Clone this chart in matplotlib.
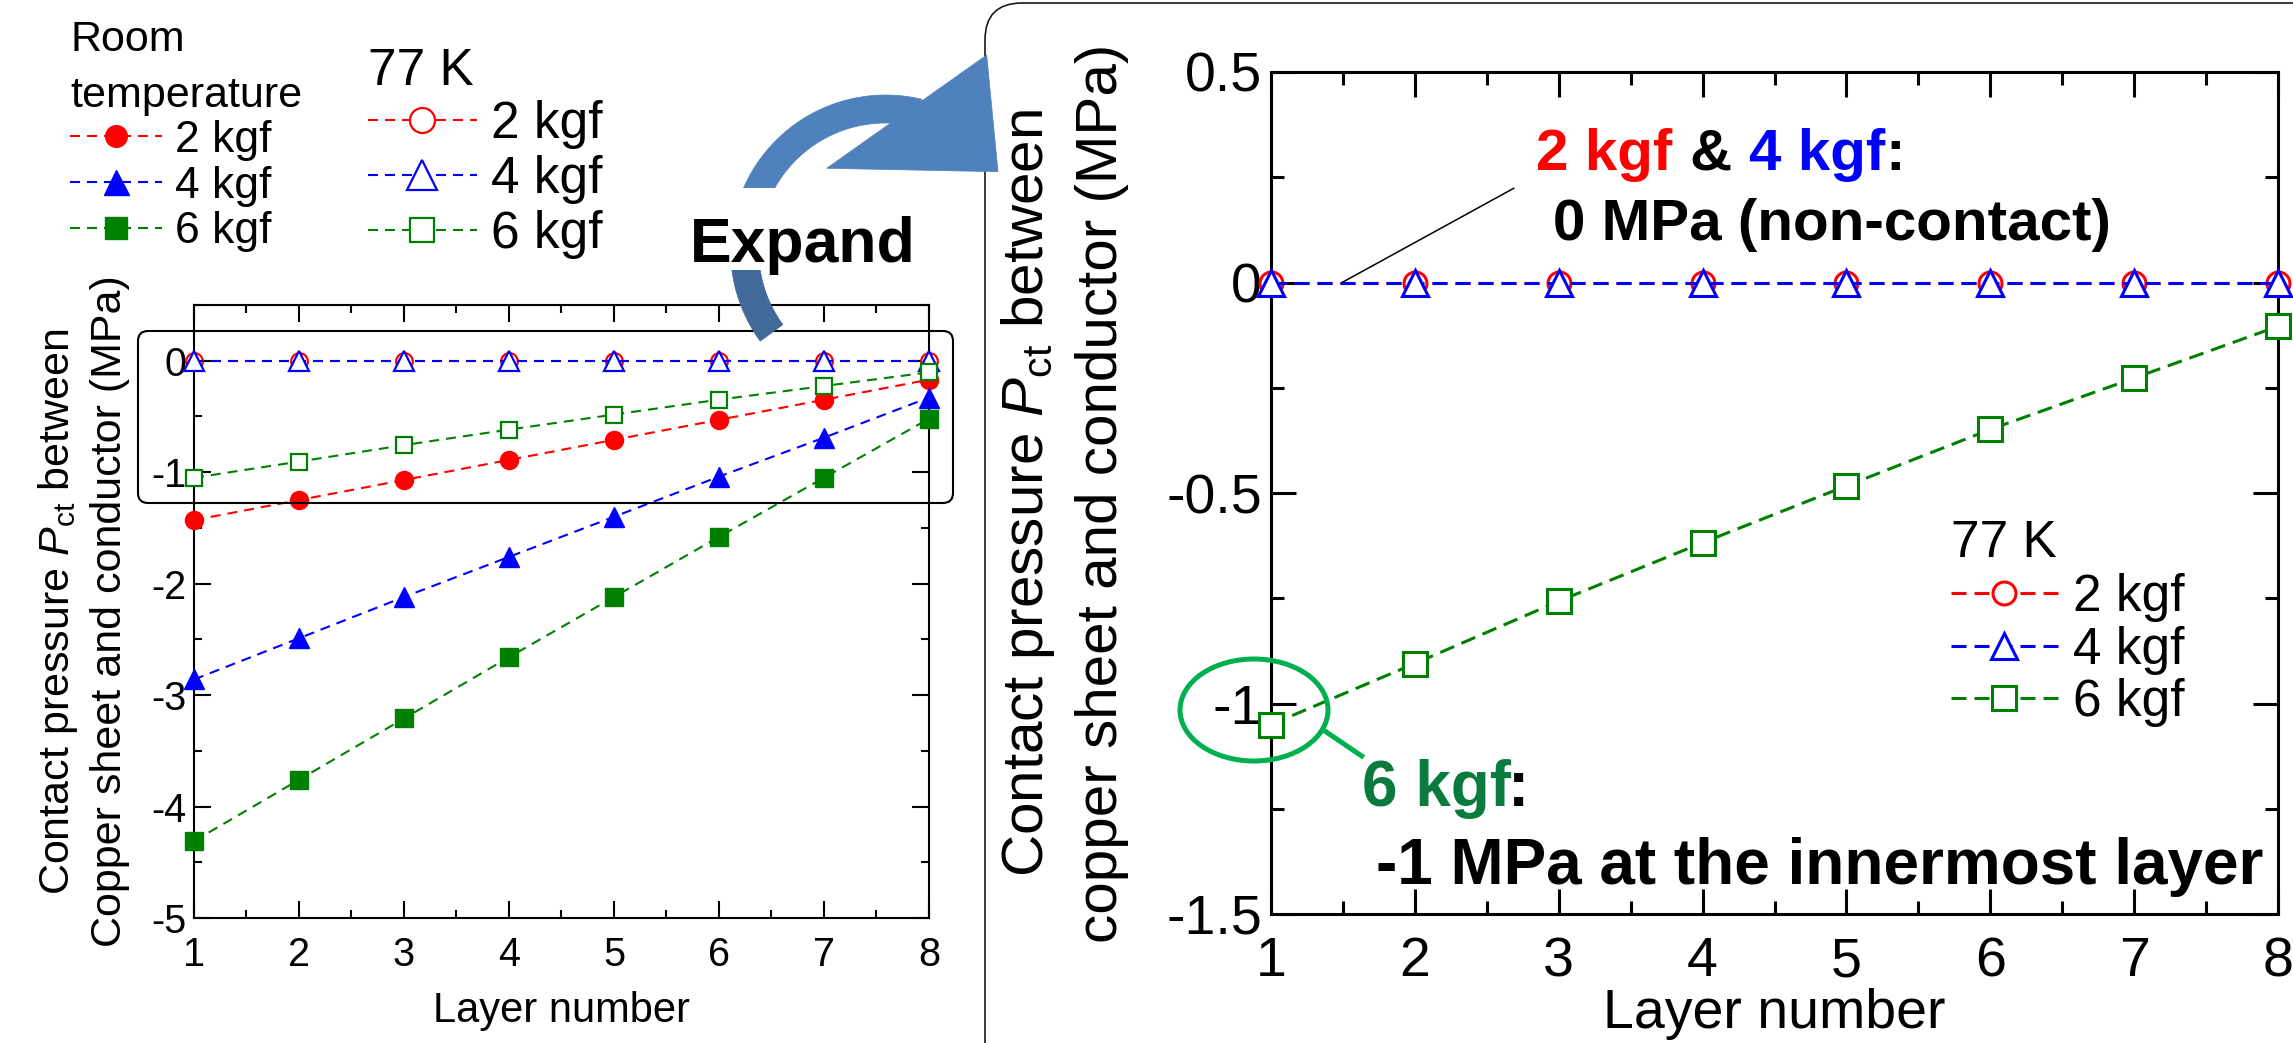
import matplotlib
matplotlib.use('Agg')
import matplotlib.pyplot as plt
from matplotlib.patches import FancyBboxPatch, Ellipse, Polygon, Rectangle
from matplotlib.ticker import MultipleLocator, FuncFormatter
import numpy as np

# ---------------- data ----------------
layers = [1, 2, 3, 4, 5, 6, 7, 8]
rt_2kgf = [-1.43, -1.25, -1.07, -0.89, -0.71, -0.53, -0.35, -0.17]
rt_4kgf = [-2.86, -2.49, -2.12, -1.76, -1.40, -1.04, -0.69, -0.33]
rt_6kgf = [-4.31, -3.76, -3.21, -2.66, -2.12, -1.58, -1.05, -0.52]
k77_2kgf = [0, 0, 0, 0, 0, 0, 0, 0]
k77_4kgf = [0, 0, 0, 0, 0, 0, 0, 0]
k77_6kgf = [-1.05, -0.905, -0.757, -0.618, -0.483, -0.349, -0.227, -0.104]
load_labels = ['2 kgf', '4 kgf', '6 kgf']

plt.rcParams['font.family'] = ['Liberation Sans', 'DejaVu Sans']
plt.rcParams['mathtext.fontset'] = 'custom'
plt.rcParams['mathtext.rm'] = 'Liberation Sans'
plt.rcParams['mathtext.it'] = 'Liberation Sans:italic'
plt.rcParams['mathtext.bf'] = 'Liberation Sans:bold'
plt.rcParams['axes.unicode_minus'] = False

RED, BLUE, GREEN = '#ff0000', '#0000ff', '#008000'

W, H = 2293, 1043
fig = plt.figure(figsize=(W / 100, H / 100), dpi=100)


def px_axes(l, t, r, b, **kw):
    return fig.add_axes([l / W, 1 - b / H, (r - l) / W, (b - t) / H], **kw)


axL = px_axes(194, 305, 929, 918)
axR = px_axes(1271, 72, 2278, 914)
ov = fig.add_axes([0, 0, 1, 1], zorder=10)
ov.set_xlim(0, W)
ov.set_ylim(H, 0)
ov.axis('off')
ov.patch.set_alpha(0)

fmt = FuncFormatter(lambda v, p: '%g' % (v + 0.0))

# ---------------- left panel ----------------
lwL = 1.5
dL = (10 * 0.72 / lwL, 7 * 0.72 / lwL)
rt_lines = []
for vals, m, c, ms in zip([rt_2kgf, rt_4kgf, rt_6kgf], ['o', '^', 's'],
                          [RED, BLUE, GREEN], [13, 15, 13]):
    ln, = axL.plot(layers, vals, ls='--', dashes=dL, color=c, lw=lwL,
                   marker=m, ms=ms, mfc=c, mec=c, clip_on=False, zorder=3)
    rt_lines.append(ln)
k77_lines_L = []
for vals, m, c, ms in zip([k77_2kgf, k77_4kgf, k77_6kgf], ['o', '^', 's'],
                          [RED, BLUE, GREEN], [12, 14, 11.5]):
    ln, = axL.plot(layers, vals, ls='--', dashes=dL, color=c, lw=lwL,
                   marker=m, ms=ms, mfc='white', mec=c, mew=1.6,
                   clip_on=False, zorder=3)
    k77_lines_L.append(ln)

axL.set_xlim(1, 8)
axL.set_ylim(-5, 0.5)
axL.xaxis.set_major_locator(MultipleLocator(1))
axL.xaxis.set_minor_locator(MultipleLocator(0.5))
axL.yaxis.set_major_locator(MultipleLocator(1))
axL.yaxis.set_minor_locator(MultipleLocator(0.5))
axL.yaxis.set_major_formatter(fmt)
axL.tick_params(which='both', direction='in', top=True, right=True,
                width=1.5, labelsize=28.5)
axL.tick_params(which='major', length=12.5)
axL.tick_params(which='minor', length=5.5)
axL.tick_params(axis='y', pad=5.5)
axL.tick_params(axis='x', pad=13)
for s in axL.spines.values():
    s.set_linewidth(1.5)
axL.set_xlabel('Layer number', fontsize=30, labelpad=12)
axL.set_ylabel('Contact pressure $P_{\\mathrm{ct}}$ between\n'
               'Copper sheet and conductor (MPa)', fontsize=31,
               linespacing=1.33, labelpad=15)

leg1 = axL.legend(rt_lines, load_labels, title='Room\ntemperature',
                  fontsize=32, title_fontsize=31, alignment='left',
                  frameon=False, borderpad=0, borderaxespad=0,
                  handlelength=2.07, handletextpad=0.3, labelspacing=0.1,
                  markerscale=1.2, loc='upper left',
                  bbox_to_anchor=(70, 27), bbox_transform=ov.transData)
axL.add_artist(leg1)
leg2 = axL.legend(k77_lines_L, load_labels, title='77 K',
                  fontsize=37, title_fontsize=37, alignment='left',
                  frameon=False, borderpad=0, borderaxespad=0,
                  handlelength=2.12, handletextpad=0.28, labelspacing=0.1,
                  markerscale=1.5, loc='upper left',
                  bbox_to_anchor=(368, 50), bbox_transform=ov.transData)

# ---------------- right panel ----------------
lwR = 2.2
dR = (15 * 0.72 / lwR, 8 * 0.72 / lwR)
k77_lines_R = []
for vals, m, c, ms in zip([k77_2kgf, k77_4kgf, k77_6kgf], ['o', '^', 's'],
                          [RED, BLUE, GREEN], [16.5, 19, 17]):
    ln, = axR.plot(layers, vals, ls='--', dashes=dR, color=c, lw=lwR,
                   marker=m, ms=ms, mfc='white', mec=c, mew=2.2,
                   clip_on=False, zorder=3)
    k77_lines_R.append(ln)
axR.set_xlim(1, 8)
axR.set_ylim(-1.5, 0.5)
axR.xaxis.set_major_locator(MultipleLocator(1))
axR.xaxis.set_minor_locator(MultipleLocator(0.5))
axR.yaxis.set_major_locator(MultipleLocator(0.5))
axR.yaxis.set_minor_locator(MultipleLocator(0.25))
axR.yaxis.set_major_formatter(fmt)
axR.tick_params(which='both', direction='in', top=True, right=True,
                width=2.2, labelsize=40)
axR.tick_params(which='major', length=18)
axR.tick_params(which='minor', length=9.5)
axR.tick_params(axis='y', pad=6.5)
axR.tick_params(axis='x', pad=16)
for s in axR.spines.values():
    s.set_linewidth(2.2)
axR.set_xlabel('Layer number', fontsize=40, labelpad=0)
axR.set_ylabel('Contact pressure $P_{\\mathrm{ct}}$ between\n'
               'copper sheet and conductor (MPa)', fontsize=42,
               linespacing=1.42, labelpad=27)
legR = axR.legend(k77_lines_R, load_labels, title='77 K',
                  fontsize=37, title_fontsize=37, alignment='left',
                  frameon=False, borderpad=0, borderaxespad=0,
                  handlelength=2.08, handletextpad=0.29, labelspacing=0.09,
                  loc='upper left', bbox_to_anchor=(1951, 522),
                  bbox_transform=ov.transData)


# ---------- fit legend rows / titles to the reference baselines ----------
def text_baseline(t, r):
    bb = t.get_window_extent(renderer=r)
    _, _, d = r.get_text_width_height_descent('lp', t.get_fontproperties(), ismath=False)
    return H - (bb.y0 + d)


def fit_legend(leg, ax_x, ax_y, title_base, row_bases, title_gap=None):
    fig.canvas.draw()
    r = fig.canvas.get_renderer()
    if title_gap is not None:
        _, h, d = r.get_text_width_height_descent(
            'lp', leg.get_title().get_fontproperties(), ismath=False)
        leg.get_title().set_linespacing(title_gap / (h - d))
    y = ax_y
    for _ in range(4):
        leg.set_bbox_to_anchor((ax_x, y), transform=ov.transData)
        fig.canvas.draw()
        r = fig.canvas.get_renderer()
        rb = [text_baseline(t, r) for t in leg.get_texts()]
        tb = text_baseline(leg.get_title(), r)
        n = len(rb) - 1
        d_row = (row_bases[-1] - row_bases[0]) / n - (rb[-1] - rb[0]) / n
        d_title = (row_bases[0] - title_base) - (rb[0] - tb)
        try:
            for col in leg._legend_handle_box.get_children():
                col.sep += d_row * 0.72
            leg._legend_box.sep += d_title * 0.72
        except AttributeError:
            pass
        y += title_base - tb
    leg.set_bbox_to_anchor((ax_x, y), transform=ov.transData)


# ---------------- overlay decorations ----------------
# rounded box around the compressed region in the left panel
ov.add_patch(FancyBboxPatch((138, 331), 815, 172, boxstyle='round,pad=0,rounding_size=10',
                            fc='none', ec='black', lw=1.5, zorder=1))
# rounded frame of the expanded panel
ov.add_patch(FancyBboxPatch((985, 3), 1500, 1300, boxstyle='round,pad=0,rounding_size=37',
                            fc='none', ec='#1a1a1a', lw=1.2, zorder=1))

# curved "Expand" arrow
cx, cy = 885.6, 250.0


def arcpts(r, a0, a1, n=60):
    a = np.radians(np.linspace(a0, a1, n))
    return np.column_stack([cx + r * np.cos(a), cy - r * np.sin(a)])


r_out, r_in = 155, 127
seg1 = np.vstack([arcpts(r_out, 216, 168), arcpts(r_in, 168, 216)])
seg2 = np.vstack([arcpts(r_out, 169, 76.5), arcpts(r_in, 76.5, 169)])
ov.add_patch(Polygon(seg1, closed=True, fc='#41699a', ec='#41699a', lw=0.5, zorder=2))
ov.add_patch(Polygon(seg2, closed=True, fc='#4f81bd', ec='#4f81bd', lw=0.5, zorder=2))
ov.add_patch(Polygon([(826.7, 168.3), (986.7, 55), (998, 171.7)], closed=True,
                     fc='#4f81bd', ec='#4f81bd', lw=0.5, zorder=2))
ov.add_patch(Rectangle((686, 188), 234, 82, fc='white', ec='none', zorder=3))
ov.text(690, 261.7, 'Expand', fontsize=45, fontweight='bold', ha='left',
        va='baseline', zorder=4)

# annotation: 2 kgf & 4 kgf
ov.plot([1341.7, 1513.7], [282.7, 188.3], color='black', lw=1.1, zorder=4)
ov.text(1536, 170, '2 kgf', color=RED, fontsize=42, fontweight='bold', va='baseline', zorder=4)
ov.text(1689, 170, '&', color='black', fontsize=42, fontweight='bold', va='baseline', zorder=4)
ov.text(1749, 170, '4 kgf', color=BLUE, fontsize=42, fontweight='bold', va='baseline', zorder=4)
ov.text(1885, 170, ':', color='black', fontsize=42, fontweight='bold', va='baseline', zorder=4)
ov.text(1553, 240, '0 MPa (non-contact)', color='black', fontsize=42,
        fontweight='bold', va='baseline', zorder=4)

# annotation: 6 kgf
ov.add_patch(Ellipse((1254, 710), 148, 102, fill=False, ec='#00b050', lw=3.6, zorder=4))
ov.plot([1323.3, 1361.7], [730, 756], color='#00b050', lw=3.6, zorder=4)
ov.text(1362, 806.4, '6 kgf', color='#0a7a3e', fontsize=46, fontweight='bold',
        va='baseline', zorder=4)
ov.text(1508, 806.4, ':', color='black', fontsize=46, fontweight='bold',
        va='baseline', zorder=4)
ov.text(1376, 883.8, '-1 MPa at the innermost layer', color='black', fontsize=46,
        fontweight='bold', va='baseline', zorder=4)

fit_legend(leg1, 70, 27, 107, [152, 196.7, 243.3], title_gap=47)
fit_legend(leg2, 368, 50, 85, [138.3, 193.3, 248.3])
fit_legend(legR, 1951, 522, 557, [610.8, 662.7, 716.4])

fig.savefig('out.png', dpi=100)
